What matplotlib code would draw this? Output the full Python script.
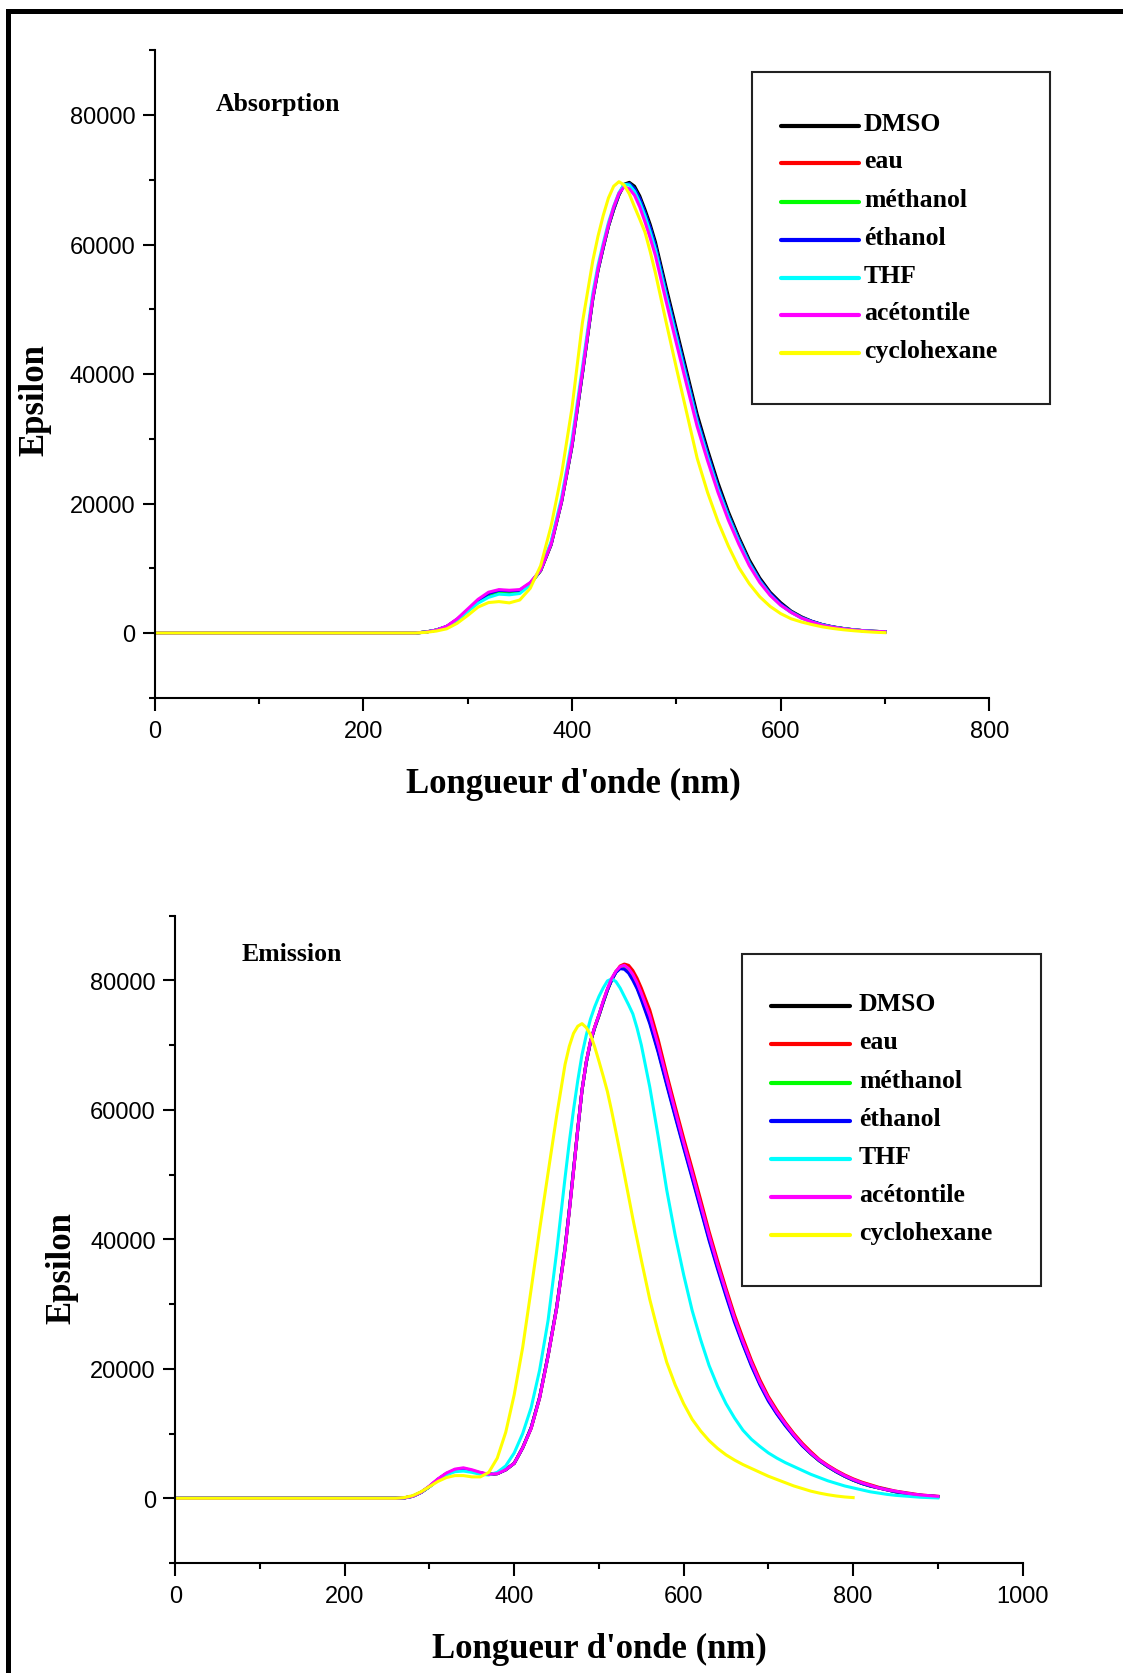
import matplotlib
matplotlib.use("Agg")
import matplotlib.pyplot as plt
from matplotlib.lines import Line2D
from matplotlib.patches import Rectangle
from matplotlib.ticker import MultipleLocator

plt.rcParams['font.family'] = ['Liberation Sans', 'DejaVu Sans']

W, H = 1123, 1674

solvents = ["DMSO", "eau", "méthanol", "éthanol", "THF", "acétontile", "cyclohexane"]
colors = ["black", "red", "#00ff00", "blue", "cyan", "magenta", "yellow"]

# absorption spectra (nm -> epsilon), finer sampling around the band maximum
wl_abs = [0] + list(range(250, 421, 10)) + list(range(425, 481, 5)) + list(range(490, 701, 10))
abs_dmso = [0,
            0, 150, 450, 1000, 2000, 3400, 4800, 5900, 6400, 6300, 6400, 7600, 9600, 13600, 20200, 28800, 40000, 51600,
            56000, 59500, 62800, 65400, 67700, 69300, 69600, 69000, 67500, 65400, 63100, 60400,
            53600, 47000, 40400, 33800, 28300, 23200, 18700, 14800, 11300, 8500, 6300, 4700, 3400, 2500, 1800,
            1300, 950, 700, 500, 350, 250, 200]
abs_eau = [0,
           0, 150, 450, 1000, 2100, 3500, 4900, 6000, 6500, 6400, 6500, 7600, 9700, 13800, 20400, 29000, 40200, 51800,
           56200, 59600, 62900, 65400, 67600, 69200, 69300, 68500, 66900, 64700, 62300, 59500,
           52600, 46000, 39400, 32900, 27500, 22400, 18100, 14300, 10800, 8100, 6000, 4400, 3200, 2400, 1700,
           1250, 900, 650, 480, 340, 250, 200]
abs_methanol = [0,
                0, 150, 450, 1000, 2100, 3500, 4900, 6000, 6400, 6300, 6500, 7600, 9700, 13700, 20300, 28900, 40100, 51700,
                56100, 59600, 62900, 65500, 67700, 69200, 69400, 68600, 67000, 64800, 62500, 59700,
                52800, 46200, 39600, 33000, 27600, 22500, 18200, 14400, 10900, 8100, 6000, 4400, 3300, 2400, 1750,
                1250, 920, 680, 490, 340, 250, 200]
abs_ethanol = [0,
               0, 150, 450, 1000, 2100, 3500, 4900, 6100, 6600, 6500, 6600, 7700, 9700, 13700, 20300, 28900, 40100, 51700,
               56100, 59600, 62900, 65500, 67700, 69200, 69400, 68600, 67100, 64900, 62600, 59800,
               52900, 46300, 39700, 33100, 27700, 22600, 18200, 14400, 10900, 8200, 6100, 4500, 3300, 2400, 1800,
               1300, 940, 690, 490, 350, 250, 200]
abs_thf = [0,
           0, 150, 450, 1000, 2000, 3300, 4600, 5500, 6000, 5900, 6100, 7400, 9800, 14100, 20900, 29800, 41000, 52500,
           56800, 60200, 63400, 65900, 68000, 69300, 69200, 68200, 66500, 64400, 61900, 59200,
           52300, 45700, 39100, 32600, 27200, 22200, 17900, 14100, 10700, 8000, 5900, 4300, 3200, 2300, 1700,
           1250, 900, 650, 480, 340, 250, 200]
abs_acet = [0,
            0, 150, 450, 1050, 2200, 3700, 5200, 6300, 6700, 6600, 6700, 7800, 9700, 13700, 20300, 29000, 40300, 51800,
            56200, 59800, 63000, 65800, 67900, 68900, 68600, 67600, 65800, 63500, 61000, 58300,
            51400, 44800, 38300, 31900, 26600, 21700, 17400, 13700, 10400, 7800, 5800, 4300, 3200, 2300, 1700,
            1200, 900, 650, 480, 340, 250, 200]
abs_cyclo = [0,
             0, 100, 300, 650, 1500, 2700, 4000, 4700, 4850, 4650, 5100, 6900, 10400, 16500, 24500, 34700, 47900, 57500,
             61300, 64500, 67200, 69000, 69700, 69200, 67800, 65800, 63900, 61900, 58900, 55600,
             48200, 41000, 34000, 27000, 21700, 17200, 13400, 10100, 7600, 5600, 4100, 3000, 2200, 1700, 1300,
             950, 700, 500, 350, 220, 120, 50]

# emission spectra
wl_em = [0] + list(range(260, 461, 10)) + list(range(465, 551, 5)) + list(range(560, 901, 10))
wl_em_cyclo = [0] + list(range(260, 461, 10)) + list(range(465, 551, 5)) + list(range(560, 801, 10))
em_dmso = [0,
           0, 50, 300, 900, 1800, 2900, 3800, 4300, 4500, 4200, 3900, 3700, 3800, 4400, 5400, 7800, 10900, 15600,
           22100, 29400, 38700,
           44500, 50700, 57000, 63000, 67300, 70500, 72700, 74600, 76600, 78500, 80100, 81300, 81900, 81900,
           81300, 80300, 78900, 77300,
           73600, 69100, 64100, 59200, 54400, 49700, 44900, 40100, 35700, 31500, 27500, 23900, 20600, 17700,
           15200, 13100, 11300, 9700, 8200, 6900, 5800, 4900, 4100, 3400, 2800, 2300, 1900, 1600, 1300, 1000,
           800, 600, 450, 350, 250]
em_eau = [0,
          0, 50, 300, 900, 1800, 2900, 3800, 4400, 4600, 4300, 3900, 3700, 3800, 4400, 5400, 7800, 10800, 15500,
          22000, 29300, 38500,
          44300, 50500, 57000, 63000, 67300, 70500, 72700, 74500, 76600, 78500, 80100, 81300, 82200, 82500,
          82300, 81500, 80300, 78800,
          75400, 70800, 65500, 60500, 55600, 50900, 46100, 41200, 36700, 32400, 28300, 24700, 21300, 18300,
          15700, 13600, 11700, 10000, 8500, 7200, 6000, 5100, 4300, 3600, 3000, 2500, 2100, 1700, 1400, 1100,
          900, 700, 500, 400, 300]
em_methanol = [0,
               0, 50, 300, 900, 1800, 2900, 3800, 4300, 4500, 4200, 3900, 3700, 3800, 4400, 5400, 7800, 10900, 15600,
               22100, 29400, 38700,
               44500, 50700, 57000, 63000, 67300, 70500, 72700, 74600, 76600, 78500, 80100, 81300, 81900, 81900,
               81300, 80400, 79000, 77500,
               73800, 69300, 64300, 59400, 54600, 49900, 45100, 40300, 35900, 31700, 27600, 24000, 20700, 17800,
               15300, 13200, 11400, 9700, 8200, 6900, 5800, 4900, 4100, 3400, 2800, 2300, 1900, 1600, 1300, 1000,
               800, 600, 450, 350, 250]
em_ethanol = [0,
              0, 50, 300, 900, 1800, 2900, 3800, 4300, 4500, 4200, 3900, 3700, 3800, 4400, 5400, 7800, 10900, 15600,
              22100, 29400, 38700,
              44500, 50700, 57000, 63000, 67300, 70500, 72700, 74600, 76600, 78500, 80000, 81200, 81800, 81700,
              81100, 80000, 78700, 77000,
              73300, 68800, 63800, 58900, 54100, 49400, 44600, 39800, 35400, 31200, 27200, 23700, 20400, 17500,
              15000, 13000, 11200, 9600, 8100, 6900, 5800, 4900, 4100, 3400, 2800, 2300, 1900, 1600, 1300, 1000,
              800, 600, 450, 350, 250]
em_thf = [0,
          0, 50, 300, 900, 1800, 2800, 3600, 4100, 4200, 4000, 3700, 3600, 4000, 5000, 7000, 10000, 14000, 19800,
          27500, 38000, 49500,
          55000, 60000, 64500, 68500, 71500, 74000, 75900, 77500, 78800, 79900, 80200, 79800, 78800, 77500,
          76200, 74800, 72600, 70000,
          63500, 55800, 47600, 40600, 34500, 29000, 24500, 20500, 17300, 14600, 12400, 10500, 9100, 8000,
          7000, 6200, 5500, 4900, 4300, 3700, 3200, 2700, 2300, 1900, 1600, 1300, 1000, 800, 600, 450,
          350, 250, 150, 100, 50]
em_acet = [0,
           0, 50, 300, 900, 1900, 3000, 3900, 4500, 4700, 4400, 4000, 3700, 3800, 4400, 5400, 7800, 10800, 15500,
           22000, 29300, 38500,
           44300, 50500, 57000, 63000, 67400, 70600, 72800, 74700, 76800, 78700, 80300, 81400, 82100, 82300,
           81800, 80900, 79600, 78000,
           74500, 69900, 64800, 59800, 54900, 50200, 45400, 40600, 36100, 31900, 27800, 24200, 20900, 17900,
           15400, 13300, 11500, 9800, 8300, 7000, 5900, 5000, 4200, 3500, 2900, 2400, 2000, 1600, 1300, 1100,
           850, 650, 500, 400, 300]
em_cyclo = [0,
            0, 100, 400, 1000, 1800, 2600, 3200, 3500, 3500, 3300, 3300, 4000, 6200, 10200, 16000, 23300, 32300,
            41500, 50300, 59000, 67000,
            69800, 71800, 72900, 73300, 72700, 71600, 69700, 67500, 65200, 62800, 59800, 56600, 53300, 50000,
            46600, 43200, 40000, 36800,
            30700, 25600, 21000, 17500, 14600, 12200, 10400, 8900, 7700, 6700, 5900, 5200, 4600, 4000, 3400,
            2900, 2400, 1900, 1500, 1100, 800, 550, 350, 200, 100]

abs_series = [abs_dmso, abs_eau, abs_methanol, abs_ethanol, abs_thf, abs_acet, abs_cyclo]
em_series = [em_dmso, em_eau, em_methanol, em_ethanol, em_thf, em_acet, em_cyclo]
em_x = [wl_em] * 6 + [wl_em_cyclo]

serif = 'Liberation Serif'


def px(x, y):
    return x / W, 1 - y / H


fig = plt.figure(figsize=(W / 100, H / 100), dpi=100)
ax1 = fig.add_axes([154.6 / W, 1 - 698.75 / H, 834.7 / W, 647.5 / H])
ax2 = fig.add_axes([175.3 / W, 1 - 1564 / H, 847.3 / W, 647.5 / H])


def style(ax, xmax):
    ax.set_xlim(0, xmax)
    ax.set_ylim(-10000, 90000)
    for s in ['top', 'right']:
        ax.spines[s].set_visible(False)
    for s in ['left', 'bottom']:
        ax.spines[s].set_linewidth(1.5)
    ax.xaxis.set_major_locator(MultipleLocator(200))
    ax.xaxis.set_minor_locator(MultipleLocator(100))
    ax.yaxis.set_major_locator(MultipleLocator(20000))
    ax.yaxis.set_minor_locator(MultipleLocator(10000))
    ax.tick_params(which='major', direction='out', length=9, width=1.5, labelsize=17)
    ax.tick_params(which='minor', direction='out', length=4.5, width=1.5)
    ax.tick_params(axis='x', pad=7)
    ax.tick_params(axis='y', pad=5)


for ys, c in zip(abs_series, colors):
    ax1.plot(wl_abs, ys, color=c, lw=2.2)
for xs, ys, c in zip(em_x, em_series, colors):
    ax2.plot(xs, ys, color=c, lw=2.2)

style(ax1, 800)
style(ax2, 1000)

txt = dict(family=serif, fontweight='bold')
fig.text(*px(216, 111), "Absorption", fontsize=18.5, va='baseline', **txt)
fig.text(*px(242, 961), "Emission", fontsize=18.5, va='baseline', **txt)
fig.text(*px(35, 400), "Epsilon", fontsize=25, rotation=90, ha='center', va='center', **txt)
fig.text(*px(62, 1268), "Epsilon", fontsize=25, rotation=90, ha='center', va='center', **txt)
fig.text(*px(573, 793), "Longueur d'onde (nm)", fontsize=25, ha='center', va='baseline', **txt)
fig.text(*px(599, 1658), "Longueur d'onde (nm)", fontsize=25, ha='center', va='baseline', **txt)


def legend(box, rows, x0, x1, xt):
    l, t, r, b = box
    fig.add_artist(Rectangle(px(l, b), (r - l) / W, (b - t) / H, transform=fig.transFigure,
                             fill=False, edgecolor='#222222', lw=1.5))
    for name, c, y in zip(solvents, colors, rows):
        fig.add_artist(Line2D([x0 / W, x1 / W], [1 - y / H] * 2, transform=fig.transFigure,
                              color=c, lw=3, solid_capstyle='round'))
        fig.text(*px(xt, y + 4), name, fontsize=18.5, va='baseline', **txt)


legend((752, 73, 1050, 405), [127, 164, 203, 241, 279, 316, 354], 781, 859, 864)
legend((742, 955, 1041, 1287), [1007, 1045, 1084, 1122, 1160, 1198, 1236], 771, 850, 859)

# frame lines of the original page
fig.add_artist(Rectangle((6 / W, 0), 5 / W, (H - 10) / H, transform=fig.transFigure,
                         color='black', lw=0))
fig.add_artist(Rectangle(px(6, 15), (W - 6) / W, 5 / H, transform=fig.transFigure,
                         color='black', lw=0))

fig.savefig("out.png", dpi=100)
